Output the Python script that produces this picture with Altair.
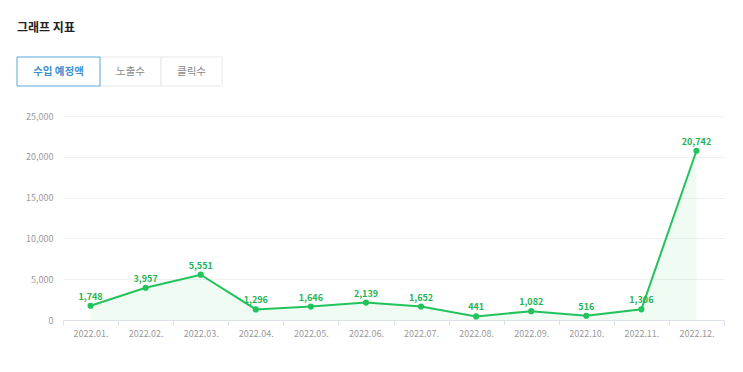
import altair as alt
import pandas as pd

months = ["2022.01.", "2022.02.", "2022.03.", "2022.04.", "2022.05.", "2022.06.",
          "2022.07.", "2022.08.", "2022.09.", "2022.10.", "2022.11.", "2022.12."]
values = [1748, 3957, 5551, 1296, 1646, 2139, 1652, 441, 1082, 516, 1306, 20742]
y_ticks = [0, 5000, 10000, 15000, 20000, 25000]
title_text = "그래프 지표"
tabs = ["수입 예정액", "노출수", "클릭수"]

df = pd.DataFrame({"month": months, "value": values})

GREEN = "#22c35c"
FONT = "Noto Sans CJK KR"

x_enc = alt.X("month:O", sort=months,
              scale=alt.Scale(type="band", paddingInner=0, paddingOuter=0),
              axis=alt.Axis(title=None, labelAngle=0, tickBand="extent", grid=False,
                            domainColor="#dde2ea", tickColor="#dde2ea", tickSize=5,
                            labelColor="#9a9a9a", labelFontSize=9, labelPadding=4,
                            labelFont=FONT))
y_enc = alt.Y("value:Q", scale=alt.Scale(domain=[0, 25000], nice=False),
              axis=alt.Axis(title=None, values=y_ticks, format=",d", domain=False, ticks=False,
                            gridColor="#f0f0f0", labelColor="#9a9a9a", labelFontSize=9,
                            labelPadding=10, labelFont=FONT))

base = alt.Chart(df).encode(x=x_enc, y=y_enc)
area = base.mark_area(color=GREEN, opacity=0.07)
line = base.mark_line(color=GREEN, strokeWidth=2)
pts = base.mark_point(color=GREEN, filled=True, opacity=1, size=38)
labels = base.mark_text(color="#1fb454", fontSize=9, fontWeight="bold", baseline="bottom",
                        dy=-4, font=FONT).encode(text=alt.Text("value:Q", format=",d"))

title_layer = alt.Chart(pd.DataFrame({"t": [title_text]})).mark_text(
    align="left", baseline="middle", fontSize=12, fontWeight="bold", color="#222222", font=FONT
).encode(x=alt.value(-46), y=alt.value(-88), text="t:N")

tab_layers = []
tab_edges = [-46, 37, 98, 159]
for i, t in enumerate(tabs):
    sel = i == 0
    tdf = pd.DataFrame({"t": [t]})
    rect = alt.Chart(tdf).mark_rect(
        fill="white", stroke="#5ba7dc" if sel else "#e8e8e8", strokeWidth=1
    ).encode(x=alt.value(tab_edges[i]), x2=alt.value(tab_edges[i + 1]),
             y=alt.value(-59), y2=alt.value(-30))
    txt = alt.Chart(tdf).mark_text(
        fontSize=10.5, fontWeight="bold" if sel else "normal",
        color="#3d8fd1" if sel else "#8a8a8a", baseline="middle", align="center", font=FONT
    ).encode(x=alt.value((tab_edges[i] + tab_edges[i + 1]) / 2), y=alt.value(-44.5), text="t:N")
    tab_layers += [rect, txt]

# draw non-selected tabs first so selected border is on top
order = [tab_layers[2], tab_layers[3], tab_layers[4], tab_layers[5], tab_layers[0], tab_layers[1]]

chart = alt.layer(area, line, pts, labels, title_layer, *order).properties(
    width=661, height=204,
    autosize=alt.AutoSizeParams(type="none"),
    padding={"left": 55, "top": 108, "right": 11, "bottom": 30},
).configure(background="white").configure_view(stroke=None, strokeWidth=0)

chart.save("out.html", embed_options={"renderer": "svg", "actions": False})
